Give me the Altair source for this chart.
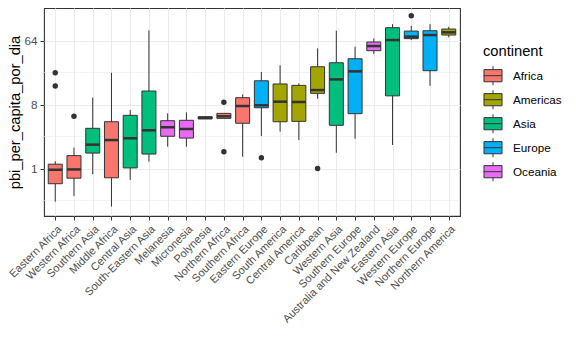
import altair as alt
import pandas as pd

categories = ["Eastern Africa", "Western Africa", "Southern Asia", "Middle Africa", "Central Asia",
              "South-Eastern Asia", "Melanesia", "Micronesia", "Polynesia", "Northern Africa",
              "Southern Africa", "Eastern Europe", "South America", "Central America", "Caribbean",
              "Western Asia", "Southern Europe", "Australia and New Zealand", "Eastern Asia",
              "Western Europe", "Northern Europe", "Northern America"]
continent = ["Africa", "Africa", "Asia", "Africa", "Asia", "Asia", "Oceania", "Oceania", "Oceania",
             "Africa", "Africa", "Europe", "Americas", "Americas", "Americas", "Asia", "Europe",
             "Oceania", "Asia", "Europe", "Europe", "Americas"]
lower = [0.34, 0.41, 0.83, 0.29, 0.69, 1.25, 2.03, 2.03, 5.0, 5.1, 1.47, 2.87, 3.31, 2.52, 9.66,
         1.67, 2.63, 41.3, 2.15, 65, 14.7, 71]
q1 = [0.61, 0.73, 1.65, 0.74, 1.02, 1.6, 2.85, 2.69, 5.0, 5.1, 4.35, 7.2, 4.57, 4.63, 11.5,
      4.07, 5.94, 46, 10.6, 68, 24, 76.5]
median = [0.96, 0.97, 2.17, 2.52, 2.67, 3.46, 3.82, 3.61, 5.2, 5.45, 7.62, 7.8, 8.77, 8.69, 12.8,
          18.1, 23.5, 53.5, 65, 72.5, 76.5, 83.6]
q3 = [1.15, 1.52, 3.69, 4.57, 5.63, 12.4, 4.73, 4.79, 5.38, 6.0, 9.98, 17.3, 15.6, 14.9, 27.3,
      31.1, 35.4, 61, 97, 87, 88, 93]
upper = [1.27, 1.97, 9.98, 22.5, 6.69, 89, 6.0, 6.2, 5.38, 6.0, 11.1, 23, 28.6, 15.9, 49.6,
         88, 52.3, 68.7, 109, 102.6, 109, 100]

outlier_region = ["Eastern Africa", "Eastern Africa", "Western Africa", "Northern Africa",
                  "Northern Africa", "Eastern Europe", "Caribbean", "Western Europe"]
outlier_value = [22.5, 14.6, 5.46, 8.6, 1.72, 1.42, 1.0, 143]

continents = ["Africa", "Americas", "Asia", "Europe", "Oceania"]
palette = ["#F8766D", "#A3A500", "#00BF7D", "#00B0F6", "#E76BF3"]

y_breaks = [1, 8, 64]
y_minor = [2 ** -1.5, 2 ** 1.5, 2 ** 4.5]
y_domain = [0.2136, 184.2]

stats = pd.DataFrame({"region": categories, "continent": continent, "lower": lower,
                      "q1": q1, "median": median, "q3": q3, "upper": upper})
outs = pd.DataFrame({"region": outlier_region, "value": outlier_value})
minor = pd.DataFrame({"v": y_minor})

xscale = alt.Scale(type="point", domain=categories, padding=0.6)
yscale = alt.Scale(type="log", base=2, domain=y_domain, nice=False, zero=False)

xenc = alt.X("region:N", scale=xscale, sort=categories,
             axis=alt.Axis(title=None, labelAngle=315, labelAlign="right", labelBaseline="top",
                           labelPadding=3, tickSize=4, labelColor="#4D4D4D", labelFontSize=11,
                           grid=True, gridColor="#EBEBEB", gridWidth=1.1, tickColor="#333333",
                           domain=False, labelOverlap=False))

minor_rules = alt.Chart(minor).mark_rule(color="#EBEBEB", strokeWidth=0.6).encode(
    y=alt.Y("v:Q", scale=yscale,
            axis=alt.Axis(title="pbi_per_capita_por_dia", values=y_breaks, format="d",
                          grid=True, gridColor="#EBEBEB", gridWidth=1.1, tickSize=4,
                          tickColor="#333333", labelColor="#4D4D4D", labelFontSize=11.7,
                          labelPadding=3, titleFontSize=14.7, titleFontWeight="normal",
                          titleColor="#000000", titlePadding=1, domain=False))
)

base = alt.Chart(stats)

whiskers = base.mark_rule(color="#333333", strokeWidth=1).encode(
    x=xenc,
    y=alt.Y("lower:Q", scale=yscale),
    y2="upper:Q",
)

boxes = base.mark_bar(size=14, stroke="#333333", strokeWidth=1).encode(
    x=xenc,
    y=alt.Y("q1:Q", scale=yscale),
    y2="q3:Q",
    fill=alt.Fill("continent:N", scale=alt.Scale(domain=continents, range=palette),
                  legend=alt.Legend(title="continent", orient="none", legendX=439, legendY=36,
                                    padding=0, titleFontSize=14.7, titleFontWeight="normal",
                                    titleColor="#000000", titlePadding=7, labelFontSize=11.7,
                                    labelColor="#000000", labelOffset=10, rowPadding=0,
                                    symbolType="M-0.95,-0.64H0.95V0.64H-0.95Z M-0.95,0H0.95 M0,-0.64V-1 M0,0.64V1",
                                    symbolSize=361, symbolStrokeColor="#333333",
                                    symbolStrokeWidth=1, symbolOpacity=1)),
)

medians = base.mark_tick(size=14, thickness=2.5, color="#333333", opacity=1).encode(
    x=xenc,
    y=alt.Y("median:Q", scale=yscale),
)

points = alt.Chart(outs).mark_circle(size=30, color="#333333", opacity=1).encode(
    x=xenc,
    y=alt.Y("value:Q", scale=yscale),
)

chart = alt.layer(minor_rules, whiskers, boxes, medians, points).properties(
    width=416, height=208,
    padding={"left": 36, "top": 0, "right": 108, "bottom": 131},
    autosize=alt.AutoSizeParams(type="none"),
).configure(font="Liberation Sans").configure_view(stroke="#333333", strokeWidth=1.1)

chart.save("out.html", embed_options={"renderer": "svg", "actions": False})
